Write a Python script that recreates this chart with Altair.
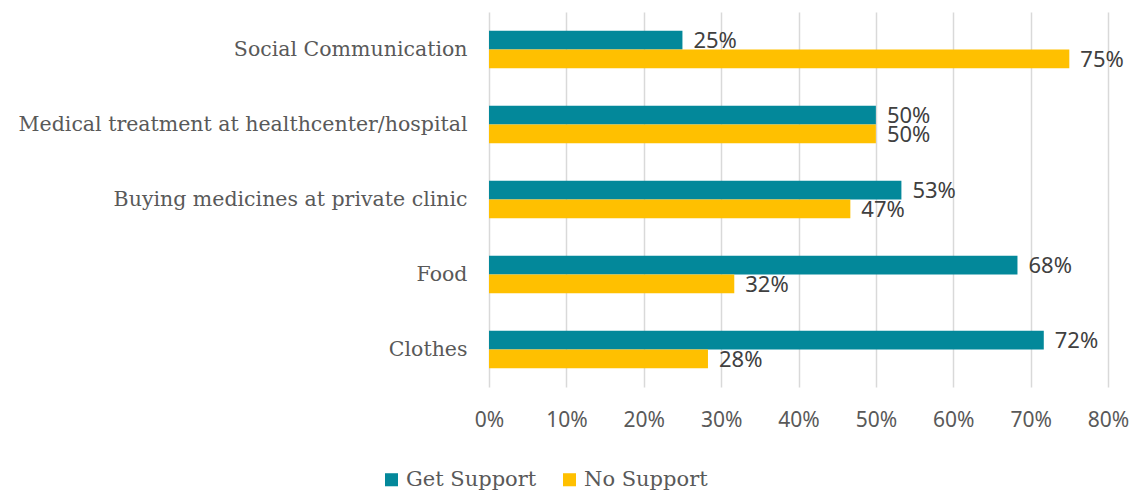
import altair as alt
import pandas as pd

categories = ["Social Communication", "Medical treatment at healthcenter/hospital",
              "Buying medicines at private clinic", "Food", "Clothes"]
get_support = [0.25, 0.50, 0.533, 0.683, 0.717]
no_support = [0.75, 0.50, 0.467, 0.317, 0.283]
series = ["Get Support", "No Support"]
colors = ["#03889A", "#FFC000"]

rows = []
for c, g, n in zip(categories, get_support, no_support):
    rows.append({"category": c, "series": series[0], "value": g})
    rows.append({"category": c, "series": series[1], "value": n})
df = pd.DataFrame(rows)

serif = "DejaVu Serif"
sans = "Noto Sans"

base = alt.Chart(df).encode(
    y=alt.Y("category:N", sort=categories, title=None,
            scale=alt.Scale(paddingInner=0.5, paddingOuter=0.25),
            axis=alt.Axis(domain=False, ticks=False, labelFont=serif, labelFontSize=20.5,
                          labelColor="#595959", labelPadding=22, labelLimit=600)),
    yOffset=alt.YOffset("series:N", sort=series),
)

bars = base.mark_bar().encode(
    x=alt.X("value:Q", title=None,
            scale=alt.Scale(domain=[0, 0.8], nice=False),
            axis=alt.Axis(format=".0%", values=[0, 0.1, 0.2, 0.3, 0.4, 0.5, 0.6, 0.7, 0.8],
                          domain=False, ticks=False, gridColor="#d9d9d9", gridWidth=1.5,
                          labelFont=sans, labelFontSize=21, labelColor="#595959",
                          labelFlush=False, labelPadding=22)),
    color=alt.Color("series:N", sort=series,
                    scale=alt.Scale(domain=series, range=colors),
                    legend=alt.Legend(title=None, orient="none", direction="horizontal",
                                      legendX=-108, legendY=457, symbolType="square",
                                      symbolSize=170, symbolStrokeWidth=0,
                                      labelFont=serif, labelFontSize=21,
                                      labelColor="#595959", columnPadding=22,
                                      symbolOffset=0, labelOffset=4)),
)

labels = base.mark_text(align="left", baseline="middle", dx=11, dy=1,
                        font=sans, fontSize=22, color="#404040").encode(
    x=alt.X("value:Q"),
    text=alt.Text("value:Q", format=".0%"),
)

chart = alt.layer(bars, labels).properties(
    width=619, height=375,
    autosize=alt.AutoSizeParams(type="none"),
    padding={"left": 481, "top": 4, "right": 23, "bottom": 104},
    background="white",
).configure_view(stroke=None)

chart.save("out.html", embed_options={"renderer": "svg", "actions": False})
